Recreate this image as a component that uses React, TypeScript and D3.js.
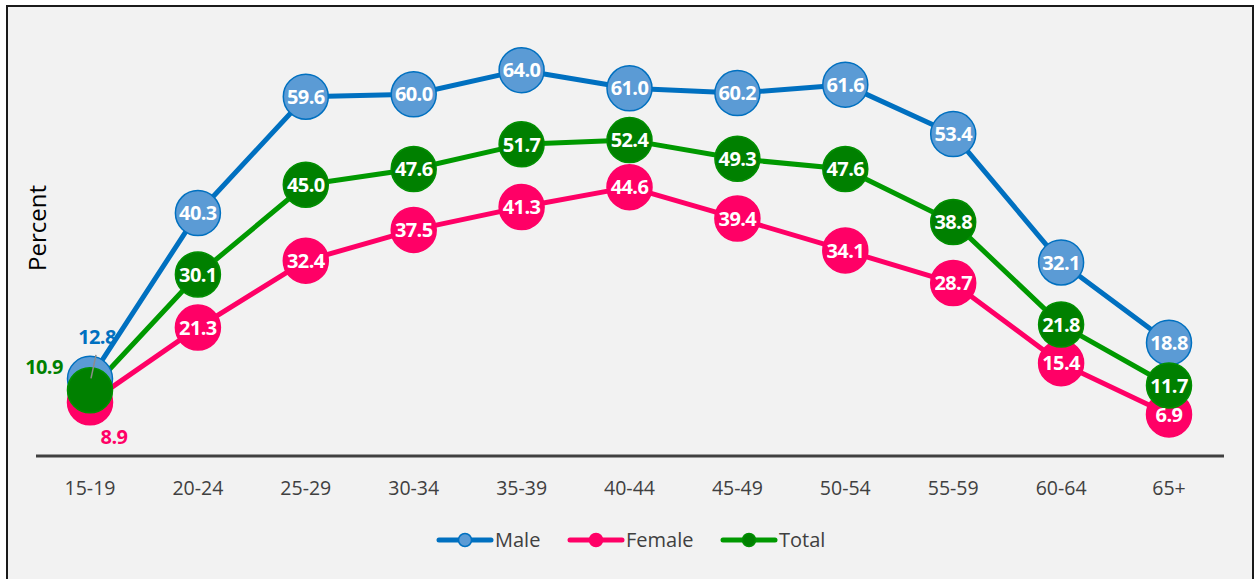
import React from "react";
import * as d3 from "d3";

const categories = ["15-19", "20-24", "25-29", "30-34", "35-39", "40-44", "45-49", "50-54", "55-59", "60-64", "65+"];
const male = [12.8, 40.3, 59.6, 60.0, 64.0, 61.0, 60.2, 61.6, 53.4, 32.1, 18.8];
const female = [8.9, 21.3, 32.4, 37.5, 41.3, 44.6, 39.4, 34.1, 28.7, 15.4, 6.9];
const total = [10.9, 30.1, 45.0, 47.6, 51.7, 52.4, 49.3, 47.6, 38.8, 21.8, 11.7];

const W = 1255;
const H = 579;
const FONT = "'Open Sans', Lato, 'DejaVu Sans', sans-serif";

const series = [
  { name: "Male", values: male, line: "#0070c0", fill: "#5b9bd5", stroke: "#0070c0", labelColor: "#0070c0", firstLabel: { dx: 7, dy: -42 } },
  { name: "Female", values: female, line: "#ff0066", fill: "#ff0066", stroke: "#ff0066", labelColor: "#ff0066", firstLabel: { dx: 24, dy: 34 } },
  { name: "Total", values: total, line: "#009900", fill: "#008000", stroke: "#009000", labelColor: "#008000", firstLabel: { dx: -46, dy: -23 } },
];

export default function App() {
  const x = d3.scalePoint<string>().domain(categories).range([90, 1169]);
  const y = d3.scaleLinear().domain([0, 70]).range([456, 34]);
  const line = d3.line<number>().x((_, i) => x(categories[i]) as number).y((d) => y(d));
  const R = 22.5;

  const legendItems = [
    { s: series[0], x0: 437 },
    { s: series[1], x0: 568 },
    { s: series[2], x0: 721 },
  ];

  return (
    <svg width={W} height={H} style={{ position: "absolute", left: 0, top: 0 }} fontFamily={FONT}>
      <rect x={7} y={6} width={1246} height={H + 10} fill="#f2f2f2" stroke="#1a1a1a" strokeWidth={2} />
      <line x1={36} x2={1224} y1={y(0)} y2={y(0)} stroke="#404040" strokeWidth={3} />
      {categories.map((c) => (
        <text key={c} x={x(c)} y={495} textAnchor="middle" fontSize={19.5} fill="#404040">{c}</text>
      ))}
      <text transform="translate(46,228) rotate(-90)" textAnchor="middle" fontSize={24} fill="#000">Percent</text>
      {series.map((s) => (
        <path key={s.name + "l"} d={line(s.values) || ""} fill="none" stroke={s.line} strokeWidth={5} strokeLinejoin="round" />
      ))}
      {series.map((s) => (
        <g key={s.name + "m"}>
          {s.values.map((v, i) => (
            <circle key={i} cx={x(categories[i])} cy={y(v)} r={R} fill={s.fill} stroke={s.stroke} strokeWidth={1.5} />
          ))}
        </g>
      ))}
      <line x1={(x(categories[0]) as number) + 6} y1={y(male[0]) - 24} x2={(x(categories[0]) as number) + 1} y2={y(total[0]) - 12} stroke="#8c8c8c" strokeWidth={1.5} />
      {series.map((s) => (
        <g key={s.name + "t"}>
          {s.values.map((v, i) => {
            const cx = x(categories[i]) as number;
            const cy = y(v);
            if (i === 0) {
              return (
                <text key={i} x={cx + s.firstLabel.dx} y={cy + s.firstLabel.dy} dy="0.36em" textAnchor="middle" fontSize={20} fontWeight="bold" fill={s.labelColor} letterSpacing={-0.6}>{v.toFixed(1)}</text>
              );
            }
            return (
              <text key={i} x={cx} y={cy} dy="0.36em" textAnchor="middle" fontSize={20} fontWeight="bold" fill="#fff" letterSpacing={-0.6}>{v.toFixed(1)}</text>
            );
          })}
        </g>
      ))}
      {legendItems.map(({ s, x0 }) => (
        <g key={s.name + "lg"}>
          <line x1={x0 + 2} x2={x0 + 54} y1={540} y2={540} stroke={s.line} strokeWidth={5} strokeLinecap="round" />
          <circle cx={x0 + 28} cy={540} r={6.5} fill={s.fill} stroke={s.stroke} strokeWidth={1.5} />
          <text x={x0 + 58} y={540} dy="0.36em" fontSize={20} fill="#404040">{s.name}</text>
        </g>
      ))}
    </svg>
  );
}
